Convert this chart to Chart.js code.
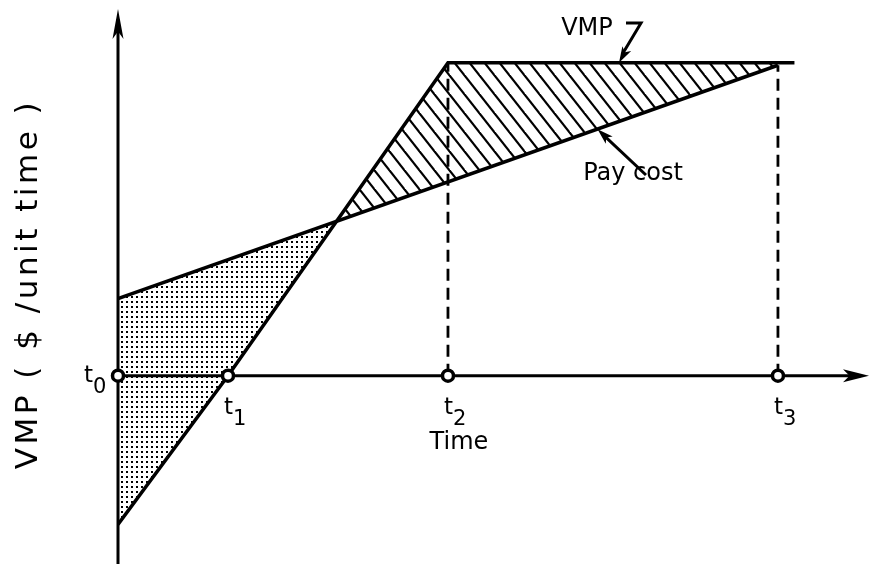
<!DOCTYPE html>
<html>
<head>
<meta charset="utf-8">
<script src="https://cdn.jsdelivr.net/npm/chart.js@4"></script>
<style>
  html, body { margin: 0; padding: 0; background: #fff; }
  #wrap { width: 880px; height: 573px; }
</style>
</head>
<body>
<div id="wrap"><canvas id="vmpChart" width="880" height="573"></canvas></div>
<script>
// marks on the time axis (t0 .. t3)
const tickTimes = [0, 1, 3, 6];
const tickNames = ['0', '1', '2', '3'];

// VMP: negative at t0, zero at t1, peaks at t2, flat to t3
const vmpTimes = [0, 1, 3, 6.15];
const vmpValues = [-2.9, 0, 6.1, 6.1];

// pay cost: straight line t0 -> t3
const payTimes = [0, 6];
const payValues = [1.5, 6.05];

// dashed drop lines at t2 and t3
const dropTimes = [3, 6];
const dropTops = [6.1, 6.05];

const FONT = '"DejaVu Sans", sans-serif';

function toXY(xs, ys) {
    return xs.map((x, i) => ({ x: x, y: ys[i] }));
}

// hatch pattern "\\\" for the area where VMP > pay
function makeHatch() {
    const w = 15, h = 19;
    const c = document.createElement('canvas');
    c.width = w; c.height = h;
    const g = c.getContext('2d');
    g.strokeStyle = '#000';
    g.lineWidth = 2.2;
    for (let dx = -w; dx <= w; dx += w) {
        g.beginPath();
        g.moveTo(dx - w * 0.2, -h * 0.2);
        g.lineTo(dx + w * 1.2, h * 1.2);
        g.stroke();
    }
    return g.createPattern(c, 'repeat');
}

// stipple for the area where pay > VMP
function makeDots() {
    const c = document.createElement('canvas');
    c.width = 5; c.height = 5;
    const g = c.getContext('2d');
    g.fillStyle = '#000';
    g.fillRect(1, 1, 2, 2);
    return g.createPattern(c, 'repeat');
}

function arrowHead(ctx, tipX, tipY, fromX, fromY, len, half) {
    const a = Math.atan2(tipY - fromY, tipX - fromX);
    ctx.save();
    ctx.translate(tipX, tipY);
    ctx.rotate(a);
    ctx.beginPath();
    ctx.moveTo(0, 0);
    ctx.lineTo(-len, -half);
    ctx.lineTo(-len * 0.75, 0);
    ctx.lineTo(-len, half);
    ctx.closePath();
    ctx.fill();
    ctx.restore();
}

const axesPlugin = {
    id: 'axesPlugin',
    beforeDatasetsDraw(chart) {
        const ctx = chart.ctx;
        const xs = chart.scales.x, ys = chart.scales.y;
        const x0 = xs.getPixelForValue(0);
        const y0 = ys.getPixelForValue(0);
        const a = chart.chartArea;
        ctx.save();
        ctx.strokeStyle = '#000';
        ctx.fillStyle = '#000';
        ctx.lineWidth = 3;
        // vertical axis
        ctx.beginPath();
        ctx.moveTo(x0, a.bottom);
        ctx.lineTo(x0, a.top + 10);
        ctx.stroke();
        arrowHead(ctx, x0, a.top, x0, a.bottom, 30, 5.5);
        // horizontal axis
        ctx.beginPath();
        ctx.moveTo(x0, y0);
        ctx.lineTo(a.right - 10, y0);
        ctx.stroke();
        arrowHead(ctx, a.right - 2, y0, x0, y0, 26, 6.5);
        ctx.restore();
    }
};

const labelPlugin = {
    id: 'labelPlugin',
    afterDraw(chart) {
        const ctx = chart.ctx;
        const xs = chart.scales.x, ys = chart.scales.y;
        const y0 = ys.getPixelForValue(0);
        ctx.save();
        ctx.fillStyle = '#000';
        ctx.strokeStyle = '#000';
        ctx.textBaseline = 'alphabetic';

        // t0..t3 under the axis (t0 sits left of the vertical axis)
        tickTimes.forEach((t, i) => {
            let px = xs.getPixelForValue(t);
            let ty = y0 + 38;
            let tx = px - 4;
            if (i === 0) { tx = px - 34; ty = y0 + 6; }
            ctx.font = '23px ' + FONT;
            ctx.textAlign = 'left';
            ctx.fillText('t', tx, ty);
            ctx.font = '21px ' + FONT;
            ctx.fillText(tickNames[i], tx + 9, ty + 11);
        });

        // axis titles
        ctx.textAlign = 'center';
        ctx.font = '24px ' + FONT;
        ctx.fillText('Time', xs.getPixelForValue(3.1), y0 + 73);

        ctx.save();
        ctx.translate(37, 284);
        ctx.rotate(-Math.PI / 2);
        ctx.font = '31px ' + FONT;
        ctx.letterSpacing = '3.5px';
        ctx.fillText('VMP ( $ /unit time )', 0, 0);
        ctx.restore();

        // series labels with pointer arrows
        ctx.font = '24px ' + FONT;
        ctx.textAlign = 'center';
        ctx.fillText('VMP', 587, 35);
        ctx.fillText('Pay cost', 633, 180);

        ctx.lineWidth = 3;
        const vTipX = xs.getPixelForValue(4.555), vTipY = ys.getPixelForValue(6.1);
        ctx.beginPath();
        ctx.moveTo(626, 23);
        ctx.lineTo(641, 23);
        ctx.lineTo(vTipX + 3, vTipY - 8);
        ctx.stroke();
        arrowHead(ctx, vTipX, vTipY, 641, 23, 16, 5);

        const pTipX = xs.getPixelForValue(4.36), pTipY = ys.getPixelForValue(1.5 + 0.758 * 4.36);
        ctx.beginPath();
        ctx.moveTo(646, 175);
        ctx.lineTo(pTipX + 6, pTipY + 6);
        ctx.stroke();
        arrowHead(ctx, pTipX, pTipY, 646, 175, 16, 5);
        ctx.restore();
    }
};

const hatch = makeHatch();
const dots = makeDots();

const ctx = document.getElementById('vmpChart').getContext('2d');
new Chart(ctx, {
    type: 'scatter',
    data: {
        datasets: [
            {
                label: 'marks',
                data: tickTimes.map(t => ({ x: t, y: 0 })),
                showLine: false,
                clip: false,
                pointRadius: 5.5,
                pointBorderWidth: 3.5,
                pointBackgroundColor: '#fff',
                pointBorderColor: '#000'
            },
            {
                label: 'VMP',
                data: toXY(vmpTimes, vmpValues),
                showLine: true,
                borderColor: '#000',
                borderWidth: 3.5,
                pointRadius: 0,
                tension: 0,
                fill: { target: 2, above: hatch, below: dots }
            },
            {
                label: 'Pay cost',
                data: toXY(payTimes, payValues),
                showLine: true,
                borderColor: '#000',
                borderWidth: 3.5,
                pointRadius: 0,
                fill: false
            },
            {
                label: 'drop t2',
                data: [{ x: dropTimes[0], y: 0 }, { x: dropTimes[0], y: dropTops[0] }],
                showLine: true,
                borderColor: '#000',
                borderWidth: 2.8,
                borderDash: [12, 7],
                pointRadius: 0,
                fill: false
            },
            {
                label: 'drop t3',
                data: [{ x: dropTimes[1], y: 0 }, { x: dropTimes[1], y: dropTops[1] }],
                showLine: true,
                borderColor: '#000',
                borderWidth: 2.8,
                borderDash: [12, 7],
                pointRadius: 0,
                fill: false
            }
        ]
    },
    options: {
        responsive: false,
        animation: false,
        devicePixelRatio: 1,
        layout: { padding: { left: 118, right: 0, top: 8, bottom: 8 } },
        scales: {
            x: { type: 'linear', min: 0, max: 6.846, display: false },
            y: { type: 'linear', min: -3.67, max: 7.146, display: false }
        },
        plugins: {
            legend: { display: false },
            tooltip: { enabled: false },
            filler: { drawTime: 'beforeDatasetsDraw' }
        }
    },
    plugins: [axesPlugin, labelPlugin]
});
</script>
</body>
</html>
